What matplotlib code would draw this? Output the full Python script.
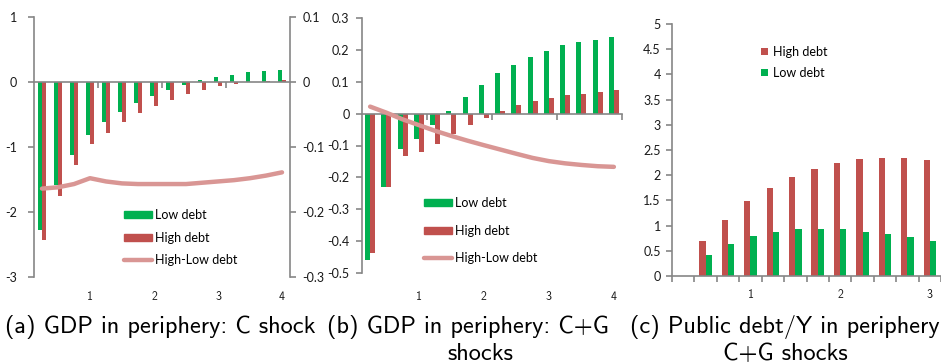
import matplotlib
matplotlib.use("Agg")
import matplotlib.pyplot as plt
import numpy as np
from matplotlib import transforms
from matplotlib.lines import Line2D
from matplotlib.patches import Patch

# ---------------- data ----------------
# quarters after the shock (4 years)
quarters = np.arange(1, 17)
year_labels = ["1", "2", "3", "4"]
year_label_pos = [4, 8, 12, 16]

# (a) GDP in periphery: C shock
a_low = [-2.28, -1.58, -1.12, -0.81, -0.62, -0.46, -0.32, -0.21,
         -0.12, -0.05, 0.025, 0.075, 0.115, 0.15, 0.17, 0.19]
a_high = [-2.43, -1.76, -1.27, -0.96, -0.78, -0.62, -0.47, -0.37,
          -0.28, -0.19, -0.13, -0.067, -0.036, -0.005, 0.02, 0.035]
a_diff = [-0.164, -0.162, -0.157, -0.148, -0.153, -0.156, -0.157, -0.157,
          -0.157, -0.157, -0.155, -0.153, -0.151, -0.148, -0.144, -0.139]
a_left_ticks = [-3, -2, -1, 0, 1]
a_left_labels = ["-3", "-2", "-1", "0", "1"]
a_right_ticks = [-0.3, -0.2, -0.1, 0, 0.1]
a_right_labels = ["-0.3", "-0.2", "-0.1", "0", "0.1"]

# (b) GDP in periphery: C+G shocks
b_low = [-0.458, -0.231, -0.110, -0.079, -0.036, 0.009, 0.051, 0.090,
         0.126, 0.154, 0.179, 0.197, 0.215, 0.225, 0.231, 0.240]
b_high = [-0.436, -0.231, -0.132, -0.119, -0.094, -0.065, -0.036, -0.0125,
          0.009, 0.026, 0.041, 0.048, 0.058, 0.0625, 0.069, 0.073]
b_diff = [0.022, 0.003, -0.018, -0.036, -0.054, -0.070, -0.085, -0.099,
          -0.1125, -0.126, -0.139, -0.149, -0.156, -0.161, -0.165, -0.167]
b_ticks = [-0.5, -0.4, -0.3, -0.2, -0.1, 0, 0.1, 0.2, 0.3]
b_labels = ["-0.5", "-0.4", "-0.3", "-0.2", "-0.1", "0", "0.1", "0.2", "0.3"]

# (c) Public debt/Y in periphery: C+G shocks
c_quarters = np.arange(1, 13)
c_high = [0, 0.70, 1.12, 1.48, 1.75, 1.97, 2.12, 2.24, 2.32, 2.35, 2.35, 2.30]
c_low = [0, 0.41, 0.635, 0.79, 0.87, 0.93, 0.93, 0.93, 0.87, 0.83, 0.77, 0.70]
c_year_labels = ["1", "2", "3"]
c_year_label_pos = [4, 8, 12]
c_ticks = [0, 0.5, 1, 1.5, 2, 2.5, 3, 3.5, 4, 4.5, 5]
c_labels = ["0", "0.5", "1", "1.5", "2", "2.5", "3", "3.5", "4", "4.5", "5"]

# ---------------- style ----------------
GREEN = "#00B050"
RED = "#C0504D"
PINK = "#D99694"
AXIS = "#868686"
TXT = "#1a1a1a"
TICK_SIZE = 9

plt.rcParams["font.family"] = ["Lato", "DejaVu Sans"]
plt.rcParams["axes.unicode_minus"] = False

W, H = 941, 364
fig = plt.figure(figsize=(W / 100, H / 100), dpi=100)


def box(left, top, right, bottom):
    return [left / W, 1 - bottom / H, (right - left) / W, (bottom - top) / H]


def base_style(ax, ypad):
    for s in ("top", "right"):
        ax.spines[s].set_visible(False)
    for s in ("left", "bottom"):
        ax.spines[s].set_color(AXIS)
        ax.spines[s].set_linewidth(1.2)
    ax.tick_params(axis="y", direction="out", length=4, width=1.2,
                   color=AXIS, labelcolor=TXT, labelsize=TICK_SIZE, pad=ypad)
    ax.tick_params(axis="x", direction="out", length=4, width=1.2,
                   color=AXIS, labelbottom=False)
    ax.patch.set_visible(False)


def year_axis_labels(ax, labels, positions, ypix):
    tr = transforms.blended_transform_factory(ax.transData, fig.transFigure)
    for lab, p in zip(labels, positions):
        ax.text(p, 1 - ypix / H, lab, transform=tr, ha="center", va="center",
                family="cmss10", fontsize=8.5, color=TXT)


# ---------- panel (a) ----------
ax_a = fig.add_axes(box(34, 17, 290, 277))
w = 0.25
ax_a.bar(quarters - w / 2, a_low, width=w, color=GREEN, label="Low debt")
ax_a.bar(quarters + w / 2, a_high, width=w, color=RED, label="High debt")
ax_a.set_xlim(0.5, 16.5)
ax_a.set_ylim(-3, 1)
base_style(ax_a, 8)
ax_a.spines["bottom"].set_position(("data", 0))
ax_a.set_xticks([4.5, 8.5, 12.5])
ax_a.set_yticks(a_left_ticks, a_left_labels)
year_axis_labels(ax_a, year_labels, year_label_pos, 297)

ax_a2 = ax_a.twinx()
ax_a2.plot(quarters, a_diff, color=PINK, lw=3.2, solid_capstyle="round",
           label="High-Low debt")
ax_a2.set_ylim(-0.3, 0.1)
for s in ("top", "left", "bottom"):
    ax_a2.spines[s].set_visible(False)
ax_a2.spines["right"].set_color(AXIS)
ax_a2.spines["right"].set_linewidth(1.2)
ax_a2.set_yticks(a_right_ticks, a_right_labels)
ax_a2.tick_params(axis="y", direction="out", length=4, width=1.2,
                  color=AXIS, labelcolor=TXT, labelsize=TICK_SIZE, pad=5)

handles_ab = [Patch(color=GREEN, label="Low debt"),
              Patch(color=RED, label="High debt"),
              Line2D([], [], color=PINK, lw=3.2, solid_capstyle="round",
                     label="High-Low debt")]
ax_a2.legend(handles=handles_ab, loc="upper left",
             bbox_to_anchor=(124 / W, 1 - 209 / H),
             bbox_transform=fig.transFigure, frameon=False, fontsize=9,
             handlelength=2.2, handleheight=0.45, handletextpad=0.25,
             labelspacing=0.85, borderpad=0, borderaxespad=0)

# ---------- panel (b) ----------
ax_b = fig.add_axes(box(362, 18, 622, 273))
w = 0.31
ax_b.bar(quarters - w / 2, b_low, width=w, color=GREEN, label="Low debt")
ax_b.bar(quarters + w / 2, b_high, width=w, color=RED, label="High debt")
ax_b.plot(quarters, b_diff, color=PINK, lw=3.2, solid_capstyle="round",
          label="High-Low debt", zorder=5)
ax_b.set_xlim(0.5, 16.5)
ax_b.set_ylim(-0.5, 0.3)
base_style(ax_b, 5)
ax_b.spines["bottom"].set_position(("data", 0))
ax_b.set_xticks([4.5, 8.5, 12.5, 16.5])
ax_b.set_yticks(b_ticks, b_labels)
year_axis_labels(ax_b, year_labels, year_label_pos, 297)
ax_b.legend(handles=handles_ab, loc="upper left",
            bbox_to_anchor=(424 / W, 1 - 197 / H),
            bbox_transform=fig.transFigure, frameon=False, fontsize=9,
            handlelength=2.2, handleheight=0.45, handletextpad=0.25,
            labelspacing=1.25, borderpad=0, borderaxespad=0)

# ---------- panel (c) ----------
ax_c = fig.add_axes(box(672, 24, 941, 276))
w = 0.28
ax_c.bar(c_quarters - w / 2, c_high, width=w, color=RED, label="High debt")
ax_c.bar(c_quarters + w / 2, c_low, width=w, color=GREEN, label="Low debt")
ax_c.set_xlim(0.5, 12.5)
ax_c.set_ylim(0, 5)
base_style(ax_c, 4)
ax_c.set_xticks(np.arange(0.5, 13, 1))
ax_c.set_yticks(c_ticks, c_labels)
year_axis_labels(ax_c, c_year_labels, c_year_label_pos, 295)
ax_c.legend(loc="upper left", bbox_to_anchor=(761 / W, 1 - 46 / H),
            bbox_transform=fig.transFigure, frameon=False, fontsize=9,
            handlelength=0.55, handleheight=0.55, handletextpad=0.4,
            labelspacing=0.7, borderpad=0, borderaxespad=0)

# ---------- captions ----------
cap = dict(family="cmss10", fontsize=17.5, color="black", ha="center",
           va="baseline")
fig.text(160 / W, 1 - 333 / H, "(a) GDP in periphery: C shock", **cap)
fig.text(468 / W, 1 - 333 / H, "(b) GDP in periphery: C+G", **cap)
fig.text(480 / W, 1 - 360 / H, "shocks", **cap)
fig.text(785 / W, 1 - 333 / H, "(c) Public debt/Y in periphery", **cap)
fig.text(785 / W, 1 - 360 / H, "C+G shocks", **cap)

fig.savefig("out.png", dpi=100)
